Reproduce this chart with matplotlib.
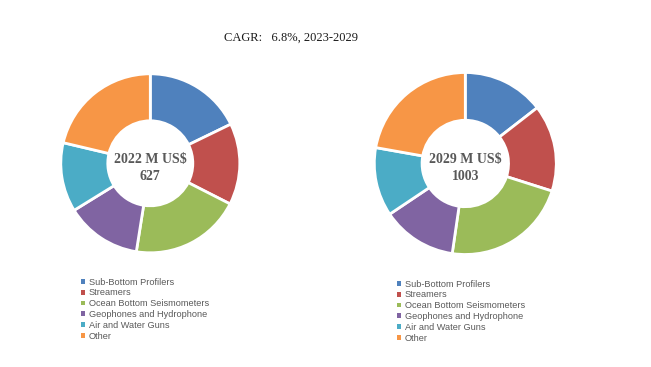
import matplotlib.pyplot as plt
from matplotlib.patches import Patch

# segment shares (%), clockwise from 12 o'clock
segments = ["Sub-Bottom Profilers", "Streamers", "Ocean Bottom Seismometers",
            "Geophones and Hydrophone", "Air and Water Guns", "Other"]
share_2022 = [17.8, 14.7, 20.0, 13.7, 12.5, 21.3]
share_2029 = [14.5, 15.4, 22.4, 13.3, 12.2, 22.2]
years = ["2022", "2029"]
totals = [627, 1003]
title = "CAGR:   6.8%, 2023-2029"

colors = ["#4F81BD", "#C0504D", "#9BBB59", "#8064A2", "#4BACC6", "#F79646"]

W, H = 651, 367
fig = plt.figure(figsize=(W / 100, H / 100), dpi=100)

fig.text(291 / W, 1 - 38 / H, title, ha="center", va="center",
         fontsize=9, family="Liberation Serif", color="#1a1a1a")


def donut(cx, cy, r, values, year, total, leg_x, leg_y):
    ax = fig.add_axes([(cx - r) / W, 1 - (cy + r) / H, 2 * r / W, 2 * r / H])
    ax.pie(values, colors=colors, startangle=90, counterclock=False, radius=1,
           wedgeprops=dict(width=0.525, edgecolor="white", linewidth=2))
    ax.set_xlim(-1, 1)
    ax.set_ylim(-1, 1)
    ax.set_aspect("equal")
    ax.axis("off")
    ax.text(0, -0.05, f"{year} M US$\n{total}", ha="center", va="center",
            fontsize=10, fontweight="bold", family="Liberation Serif",
            color="#595959", linespacing=1.4)
    handles = [Patch(facecolor=c, edgecolor="none") for c in colors]
    fig.legend(handles, segments, loc="upper left",
               bbox_to_anchor=(leg_x / W, 1 - leg_y / H), frameon=False,
               prop=dict(family="Liberation Sans", size=6.6),
               handlelength=0.45, handleheight=0.45, handletextpad=0.45,
               labelspacing=0.2, borderpad=0, labelcolor="#595959")


donut(150.3, 163.3, 89.5, share_2022, years[0], totals[0], 76, 273)
donut(465.3, 163.5, 91, share_2029, years[1], totals[1], 392, 275)

fig.savefig("out.png", dpi=100)
